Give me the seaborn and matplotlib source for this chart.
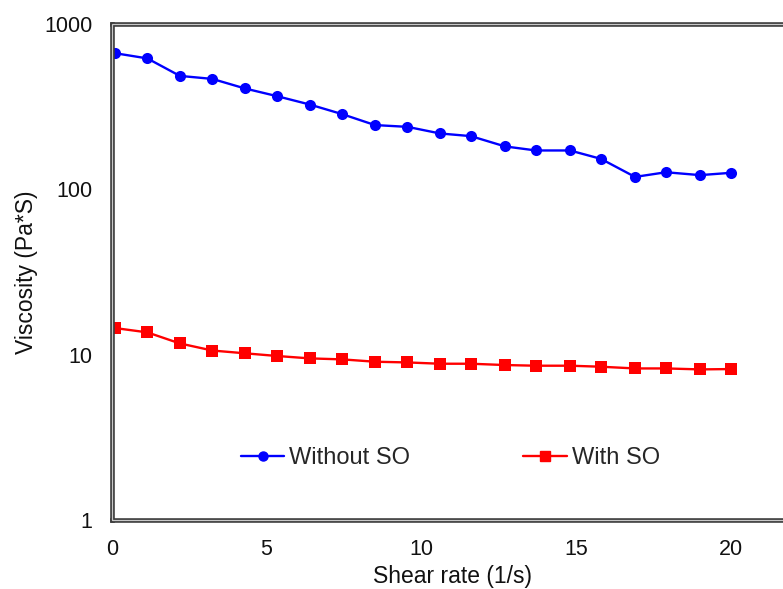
import numpy as np
import pandas as pd
import matplotlib
matplotlib.use("Agg")
import matplotlib.pyplot as plt
from matplotlib.patches import Rectangle
from matplotlib.lines import Line2D
import seaborn as sns

# Shear rate sweep (1/s)
shear_rate = [0.1, 1.15, 2.2, 3.25, 4.3, 5.35, 6.4, 7.45, 8.5, 9.55,
              10.6, 11.6, 12.7, 13.7, 14.8, 15.8, 16.9, 17.9, 19.0, 20.0]
# Viscosity (Pa*S)
without_so = [667, 620, 486, 466, 408, 366, 326, 285, 245, 239,
              218, 210, 182, 172, 172, 153, 119, 127, 122, 126]
with_so = [14.5, 13.65, 11.7, 10.6, 10.2, 9.82, 9.5, 9.37, 9.07, 8.98,
           8.82, 8.82, 8.66, 8.58, 8.58, 8.46, 8.26, 8.26, 8.15, 8.19]
series_names = ["Without SO", "With SO"]
y_ticks = [1, 10, 100, 1000]
x_ticks = [0, 5, 10, 15, 20]

sns.set_theme(style="white")
plt.rcParams["font.family"] = ["Liberation Sans", "DejaVu Sans"]

df = pd.DataFrame({
    "Shear rate": shear_rate * 2,
    "Viscosity": without_so + with_so,
    "Sample": [series_names[0]] * len(shear_rate) + [series_names[1]] * len(shear_rate),
})

fig = plt.figure(figsize=(7.83, 5.89), dpi=100)
ax = fig.add_axes([0.1427, 0.1171, 0.870, 0.842])

sns.lineplot(data=df, x="Shear rate", y="Viscosity", hue="Sample", style="Sample",
             palette={"Without SO": "#0000ff", "With SO": "#ff0000"},
             markers={"Without SO": "o", "With SO": "s"}, dashes=False,
             markersize=8, markeredgewidth=0, linewidth=1.7, ax=ax, legend=False)

ax.set_yscale("log")
ax.set_ylim(1, 1000)
ax.set_xlim(0, 22)
ax.set_yticks(y_ticks)
ax.set_yticklabels([str(t) for t in y_ticks])
ax.minorticks_off()
ax.set_xticks(x_ticks)
ax.set_xticklabels([str(t) for t in x_ticks])
ax.tick_params(axis="both", length=0, labelsize=15.5, colors="#111111")
ax.tick_params(axis="y", pad=14)
ax.tick_params(axis="x", pad=14)

ax.set_xlabel("Shear rate (1/s)", fontsize=16.5, color="#111111", labelpad=3)
ax.set_ylabel("Viscosity (Pa*S)", fontsize=16.5, color="#111111", labelpad=4.5)

# double-line frame: dark outer band with a light core
for s in ax.spines.values():
    s.set_visible(True)
    s.set_color("#3a3a3a")
    s.set_linewidth(3.3)
ax.add_patch(Rectangle((0, 0), 1, 1, transform=ax.transAxes, fill=False,
                       edgecolor="#c8c8c8", linewidth=0.9, clip_on=False, zorder=5))

# legend
handles = [
    Line2D([], [], color="#0000ff", marker="o", markersize=6.5, linewidth=1.7),
    Line2D([], [], color="#ff0000", marker="s", markersize=6.5, linewidth=1.7),
]
ax.legend(handles, series_names, loc="center", bbox_to_anchor=(0.497, 0.125),
          ncol=2, frameon=False, fontsize=17, handlelength=1.85,
          handletextpad=0.2, columnspacing=4.8)

fig.savefig("out.png", dpi=100)
